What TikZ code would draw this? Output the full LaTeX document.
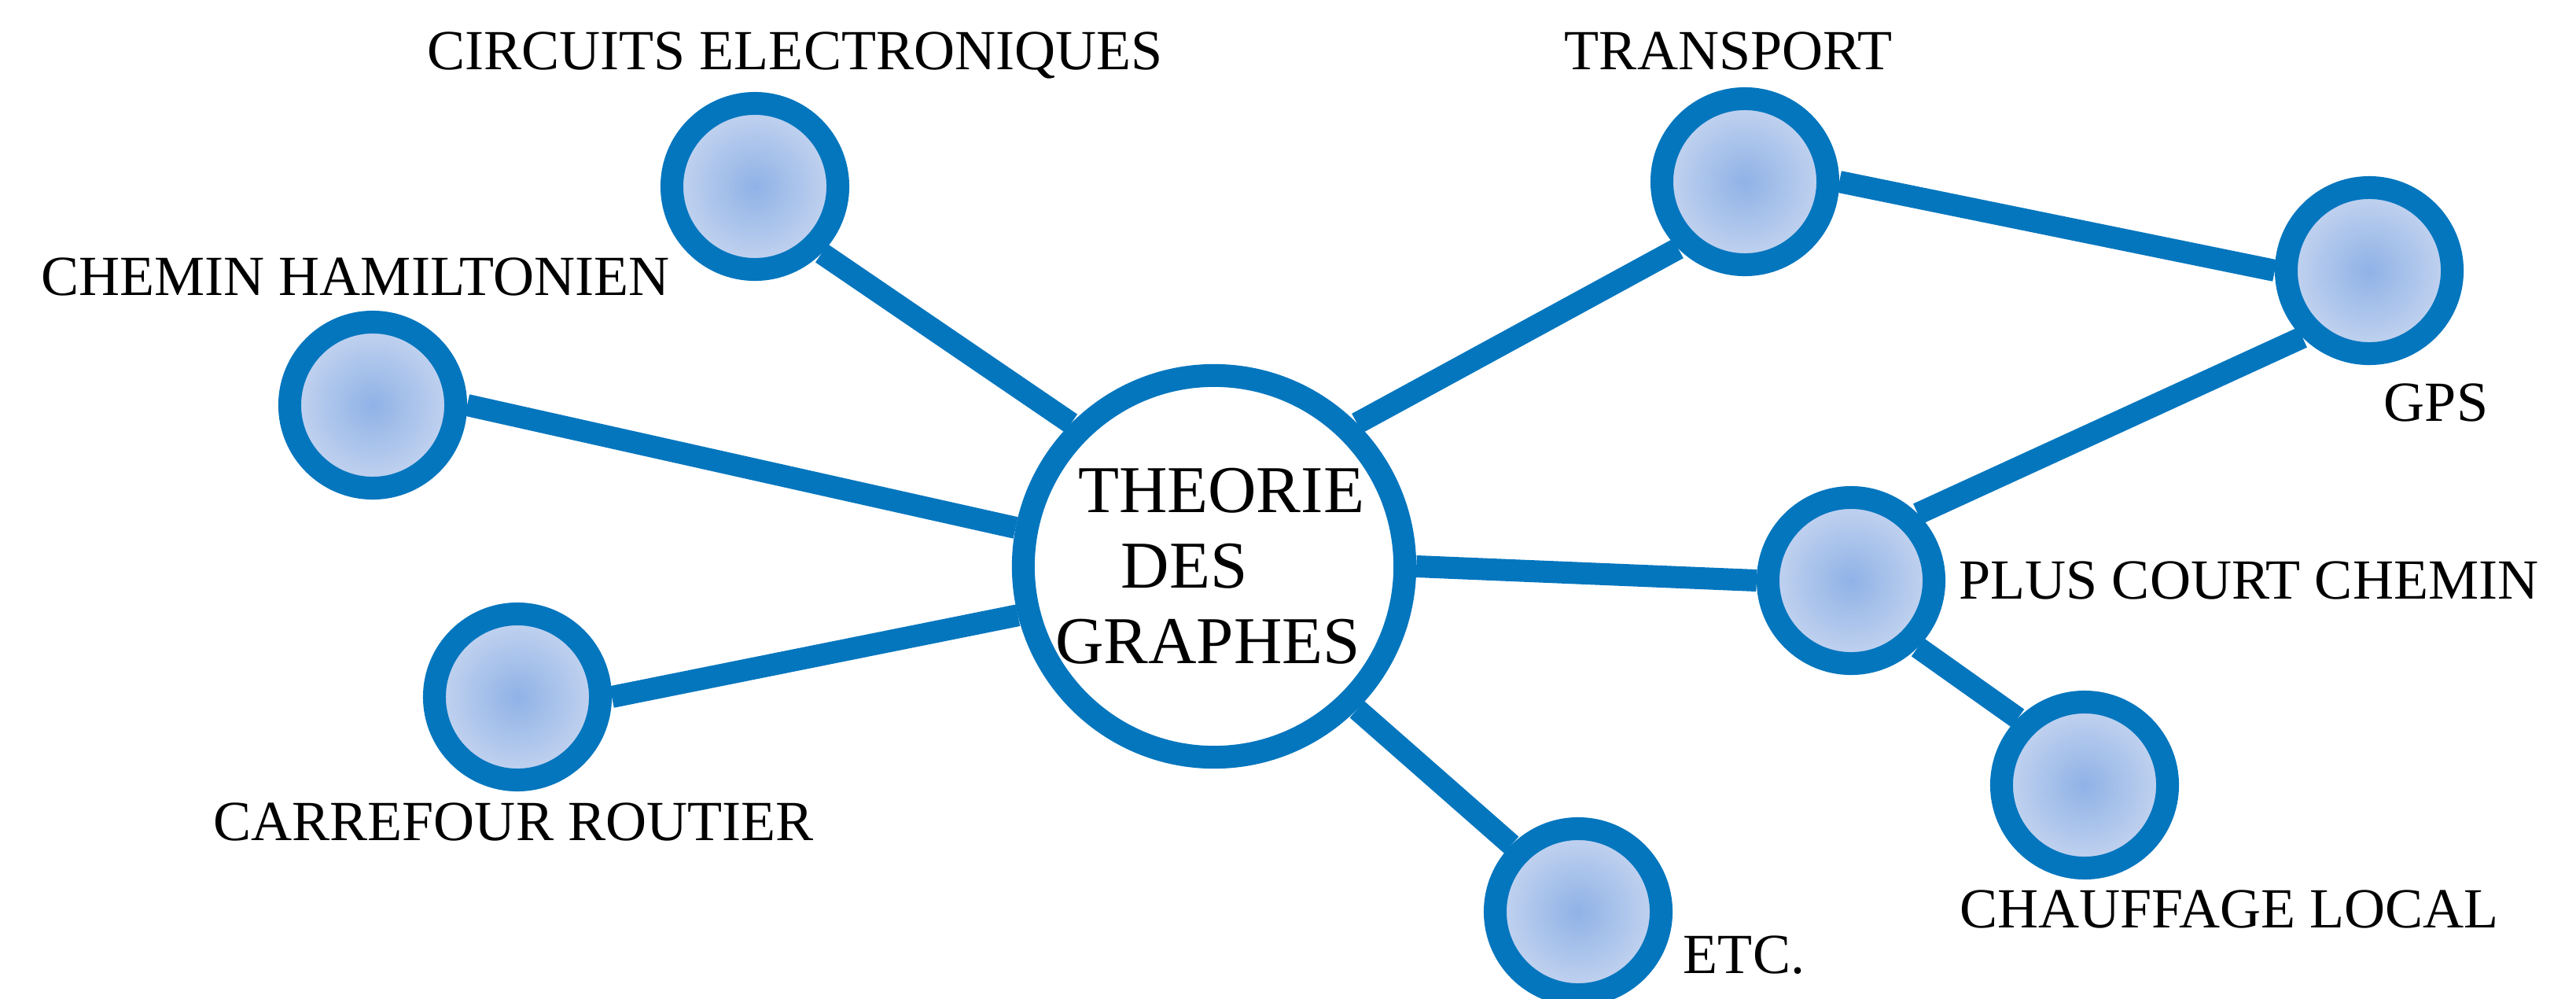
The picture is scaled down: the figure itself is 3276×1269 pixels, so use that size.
\documentclass[tikz,border=0pt]{standalone}
\usepackage{fontspec}
\setmainfont{Liberation Serif}
\usepackage{tikz}
\definecolor{ringblue}{RGB}{4,118,190}
\definecolor{dotin}{RGB}{143,178,230}
\definecolor{dotout}{RGB}{198,213,240}

\begin{document}
\begin{tikzpicture}[x=0.01cm,y=-0.01cm]
            \tikzstyle{every node}=[font=\fontsize{20.5}{24}\selectfont]
            \tikzstyle{dot}=[circle, draw=ringblue, line width=0.29cm, minimum size=2.11cm, inner color=dotin, outer color=dotout]
            \tikzstyle{link}=[draw=ringblue, line width=0.28cm]
            \tikzstyle{lbl}=[inner sep=0pt, anchor=base]
            \useasboundingbox (0,0) rectangle (3276,1269);
            \node [circle, draw=ringblue, line width=0.29cm, minimum size=4.85cm, fill=white, inner sep=0pt, align=center, font=\fontsize{24.2}{27.3}\selectfont] (graphes) at (1544,720) {\hspace*{0.18cm}THEORIE\\DES\hspace{0.76cm}\mbox{}\\GRAPHES\hspace{0.16cm}\mbox{}};
            \node [dot] (circuits) at (960,237) {};
            \node [dot] (hamilton) at (474,515) {};
            \node [dot] (carrefour) at (658,886) {};
            \node [dot] (transport) at (2219,231) {};
            \node [dot] (gps) at (3013,344) {};
            \node [dot] (pluscourt) at (2354,738) {};
            \node [dot] (chauffage) at (2651,998) {};
            \node [dot] (etc) at (2007,1159) {};
            \draw [link] (graphes.north west) -- (circuits.south east);
            \draw [link] (graphes.169) -- (hamilton.east);
            \draw [link] (graphes.194) -- (carrefour.east);
            \draw [link] (graphes.north east) -- (transport.south west);
            \draw [link] (graphes.east) -- (pluscourt.west);
            \draw [link] (graphes.south east) -- (etc.north west);
            \draw [link] (transport.east) -- (gps.west);
            \draw [link] (gps.south west) -- (pluscourt.north east);
            \draw [link] (pluscourt.south east) -- (chauffage.north west);
            \node [lbl] (lcircuits) at (1011,88) {CIRCUITS ELECTRONIQUES};
            \node [lbl] (ltransport) at (2198,88) {TRANSPORT};
            \node [lbl] (lhamilton) at (452,375) {CHEMIN HAMILTONIEN};
            \node [lbl] (lgps) at (3098,535) {GPS};
            \node [lbl] (lpluscourt) at (2860,761) {PLUS COURT CHEMIN};
            \node [lbl] (lcarrefour) at (653,1068) {CARREFOUR ROUTIER};
            \node [lbl] (lchauffage) at (2835,1179) {CHAUFFAGE LOCAL};
            \node [lbl] (letc) at (2218,1237) {ETC.};
        \end{tikzpicture}
\end{document}
